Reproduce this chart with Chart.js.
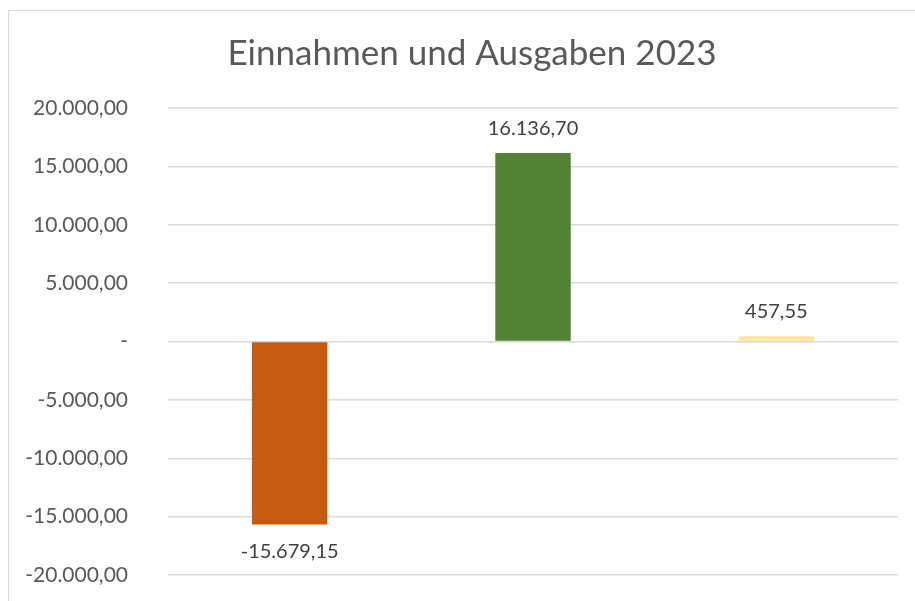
<!DOCTYPE html>
<html>
<head>
<meta charset="utf-8">
<script src="https://cdn.jsdelivr.net/npm/chart.js@4"></script>
<style>
  html, body { margin: 0; padding: 0; background: #fff; overflow: hidden; }
  #box { position: absolute; left: 8px; top: 10px; width: 930px; height: 600px;
         border: 1px solid #d9d9d9; box-sizing: border-box; background: #fff; }
  #box canvas { display: block; }
</style>
</head>
<body>
<div id="box"><canvas id="barChart" width="928" height="598"></canvas></div>
<script>
// data
var categories = ["Ausgaben", "Einnahmen", "Saldo"];
var values = [-15679.15, 16136.70, 457.55];
var barColors = ["#C55A11", "#548235", "#FFE699"];
var tickValues = [-20000, -15000, -10000, -5000, 0, 5000, 10000, 15000, 20000];
var chartTitle = "Einnahmen und Ausgaben 2023";

function fmt(v) {
    if (v === 0) return "-";
    return v.toLocaleString("de-DE", {minimumFractionDigits: 2, maximumFractionDigits: 2});
}

var fontFamily = "Lato, 'Open Sans', sans-serif";

// title (drawn by hand so it can sit off the plot centre like the original)
var titlePlugin = {
    id: 'titlePlugin',
    afterDraw: function (chart) {
        var ctx = chart.ctx;
        ctx.save();
        ctx.font = "35px " + fontFamily;
        ctx.fillStyle = "#595959";
        ctx.textAlign = "center";
        ctx.textBaseline = "middle";
        ctx.fillText(chartTitle, 463, 43);
        ctx.restore();
    }
};

// value labels above / below the bars
var valueLabels = {
    id: 'valueLabels',
    afterDatasetsDraw: function (chart) {
        var ctx = chart.ctx;
        var meta = chart.getDatasetMeta(0);
        ctx.save();
        ctx.font = "20px " + fontFamily;
        ctx.fillStyle = "#404040";
        ctx.textAlign = "center";
        ctx.textBaseline = "middle";
        meta.data.forEach(function (bar, i) {
            var v = values[i];
            var y = v >= 0 ? bar.y - 25 : bar.y + 27;
            ctx.fillText(fmt(v), bar.x, y);
        });
        ctx.restore();
    }
};

var ctx = document.getElementById("barChart").getContext('2d');
var myChart = new Chart(ctx, {
    type: 'bar',
    data: {
        labels: categories,
        datasets: [{
            data: values,
            backgroundColor: barColors,
            barPercentage: 0.62,
            categoryPercentage: 0.5
        }]
    },
    options: {
        responsive: false,
        animation: false,
        layout: {
            padding: {left: 0, right: 39, top: 97, bottom: 34}
        },
        plugins: {
            legend: {display: false},
            tooltip: {enabled: false},
            title: {display: false}
        },
        scales: {
            x: {
                display: false
            },
            y: {
                min: -20000,
                max: 20000,
                afterBuildTicks: function (scale) {
                    scale.ticks = tickValues.map(function (v) { return {value: v}; });
                },
                afterFit: function (scale) { scale.width = 159; },
                grid: {color: "#d9d9d9", lineWidth: 1.5, drawTicks: true, tickLength: 30, tickColor: "rgba(0,0,0,0)"},
                border: {display: false},
                ticks: {
                    padding: 10,
                    color: "#595959",
                    font: {family: fontFamily, size: 21},
                    callback: function (v) { return fmt(v); }
                }
            }
        }
    },
    plugins: [valueLabels, titlePlugin]
});
</script>
</body>
</html>
